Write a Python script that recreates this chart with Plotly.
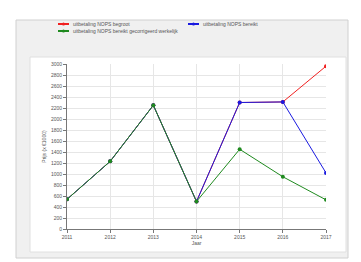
import plotly.graph_objects as go

years = [2011, 2012, 2013, 2014, 2015, 2016, 2017]
begroot = [540, 1230, 2250, 500, 2300, 2310, 2960]
bereikt = [540, 1230, 2250, 500, 2300, 2310, 1020]
gecorrigeerd = [540, 1230, 2250, 500, 1450, 950, 530]
names = ["uitbetaling NOPS begroot", "uitbetaling NOPS bereikt",
         "uitbetaling NOPS bereikt gecorrigeerd werkelijk"]
colors = ["#f02020", "#1a1ae0", "#1f8a1f"]

OFF = 8  # page body margin
W, H = 353, 254
L, R, T, B = 59, 35, 56, 33
pw, ph = W - L - R, H - T - B

def px(x):
    return (x - OFF - L) / pw

def py(y):
    return (H - B - (y - OFF)) / ph

fig = go.Figure()
for vals, name, col in zip([begroot, bereikt, gecorrigeerd], names, colors):
    fig.add_trace(go.Scatter(x=years, y=vals, name=name, mode="lines+markers",
                             line=dict(color=col, width=1),
                             marker=dict(color=col, size=4), showlegend=False))

shapes = [
    dict(type="rect", xref="paper", yref="paper", x0=px(16), x1=px(348),
         y0=py(258), y1=py(20), fillcolor="#f0f0f0", line=dict(color="#d0d0d0", width=1),
         layer="below"),
    dict(type="rect", xref="paper", yref="paper", x0=px(30), x1=px(346),
         y0=py(252), y1=py(57), fillcolor="white", line=dict(color="#e0e0e0", width=1),
         layer="below"),
]
annotations = []
legend_pos = [(58, 24), (188, 24), (58, 31)]
for (lx, ly), name, col in zip(legend_pos, names, colors):
    shapes.append(dict(type="line", xref="paper", yref="paper", x0=px(lx), x1=px(lx + 11),
                       y0=py(ly), y1=py(ly), line=dict(color=col, width=2)))
    shapes.append(dict(type="circle", xref="paper", yref="paper",
                       x0=px(lx + 4), x1=px(lx + 7), y0=py(ly + 1.5), y1=py(ly - 1.5),
                       fillcolor=col, line=dict(color=col, width=0)))
    annotations.append(dict(xref="paper", yref="paper", x=px(lx + 13), y=py(ly),
                            xanchor="left", yanchor="middle", text=name, showarrow=False,
                            font=dict(size=5, color="#555")))

fig.update_layout(
    width=W, height=H,
    margin=dict(l=L, r=R, t=T, b=B, autoexpand=False),
    paper_bgcolor="white", plot_bgcolor="white",
    font=dict(family="Liberation Sans", size=5, color="#555"),
    showlegend=False,
    shapes=shapes,
    annotations=annotations,
    xaxis=dict(range=[2011, 2017], tickvals=years, showgrid=True, gridcolor="#e6e6e6",
               gridwidth=1, showline=True, linecolor="#777", ticks="outside", ticklen=3,
               tickcolor="#777", zeroline=False, tickfont=dict(size=5), automargin=False,
               title=dict(text="Jaar", font=dict(size=5), standoff=2)),
    yaxis=dict(range=[0, 3000], dtick=200, showgrid=True, gridcolor="#e6e6e6",
               gridwidth=1, showline=True, linecolor="#777", ticks="outside", ticklen=3,
               tickcolor="#777", zeroline=False, tickfont=dict(size=5), automargin=False,
               title=dict(text="Prijs (x €1000)", font=dict(size=5), standoff=4)),
)
fig.write_html("out.html")
